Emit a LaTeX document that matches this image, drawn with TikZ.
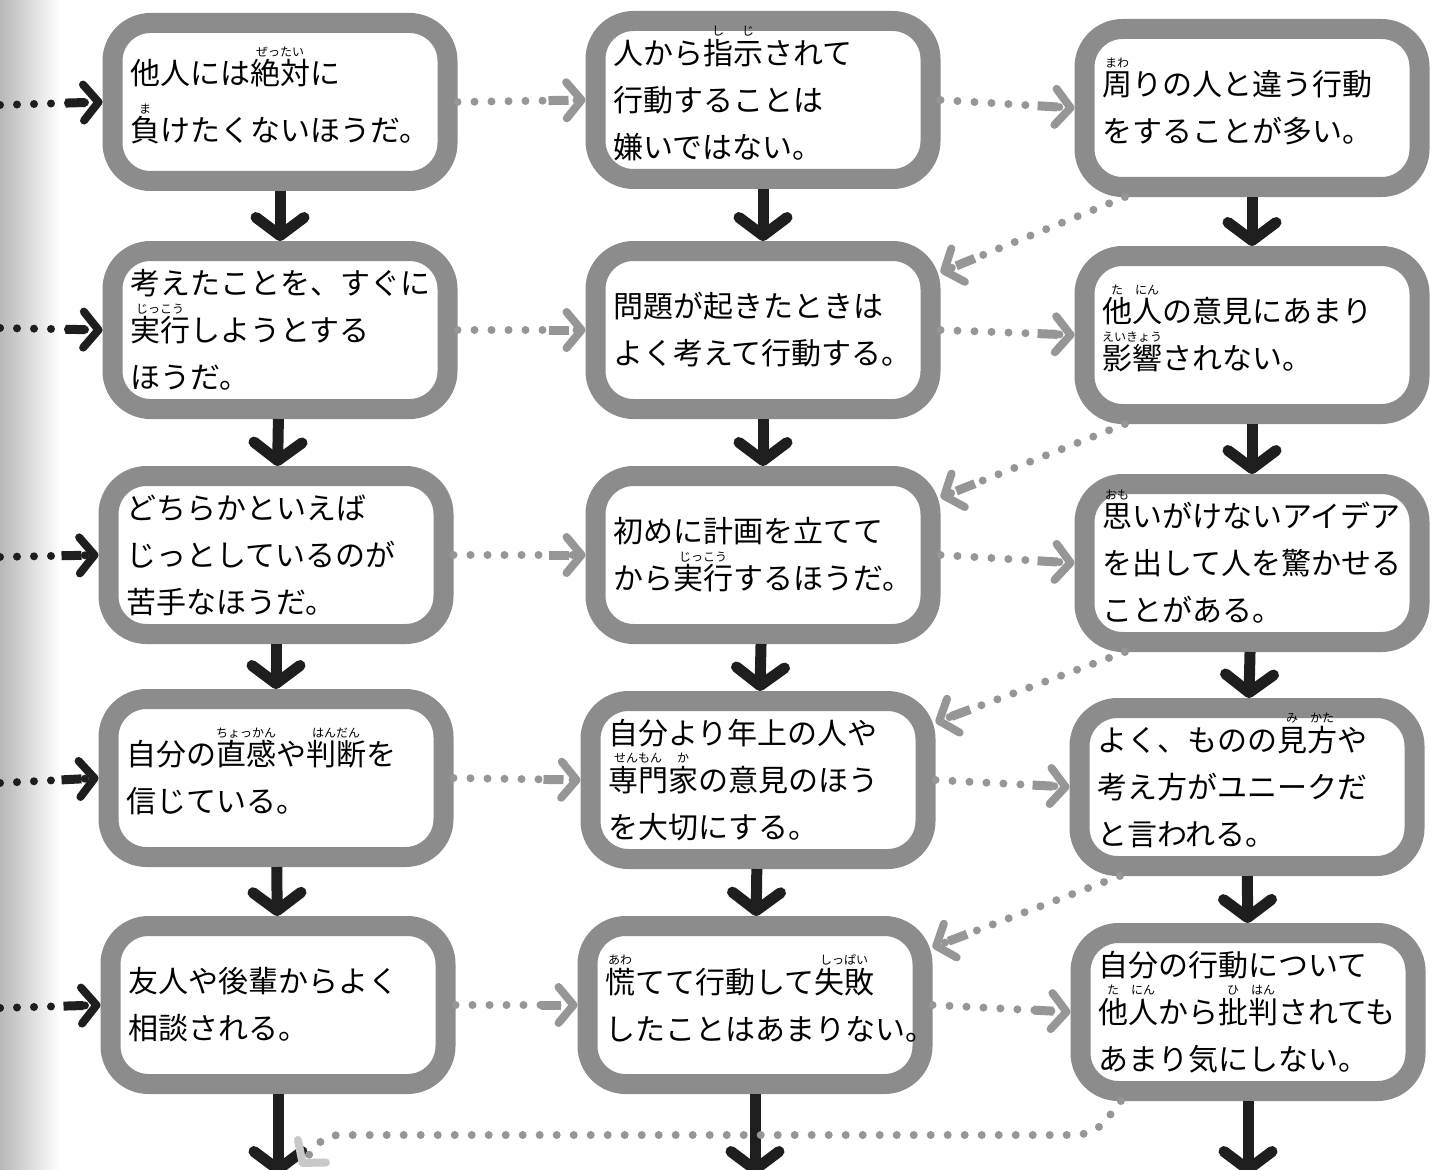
\documentclass[tikz,border=0pt]{standalone}
\usepackage{fontspec}
\setmainfont{Noto Sans CJK JP}
\usepackage{xcolor}
\usepackage{tikz}
\usetikzlibrary{arrows.meta,positioning}

\definecolor{boxgray}{RGB}{140,140,140}
\definecolor{dotgray}{RGB}{150,150,150}
\definecolor{tiplight}{RGB}{200,200,200}
\definecolor{ink}{RGB}{30,30,30}

\newcommand\furi[2]{\leavevmode\setbox0\hbox{#1}\rlap{\raisebox{0.95em}[0pt][0pt]{\makebox[\wd0][c]{\fontsize{12}{12}\selectfont #2}}}\box0}

\begin{document}
\begin{tikzpicture}
[x=1pt,y=-1pt,
box/.style={rectangle,draw=boxgray,line width=20pt,fill=white,rounded corners=38pt,minimum width=335pt,minimum height=158pt,text width=300pt,inner xsep=17.5pt,outer sep=10pt,align=left,font=\fontsize{30}{47}\selectfont},
down/.style={line width=11pt,draw=ink,-{Straight Barb[round,length=18pt,width=48pt]}},
link/.style={line width=8pt,line cap=round,dash pattern=on 0pt off 17pt,draw=dotgray,-{Rectangle[length=20pt,width=9pt,sep=-6pt]Straight Barb[round,length=15pt,width=36pt,line width=8pt]}},
inlink/.style={link,draw=ink}];
\useasboundingbox (0,0) rectangle (1447,1169);
\shade[left color=black!28,right color=white] (0,0) rectangle (60,1169);

\node[box] (a1) at (280,102) {他人には\furi{絶対}{ぜったい}に\\[10pt]\furi{負}{ま}けたくないほうだ。};
\node[box] (b1) at (763,100) {人から\furi{指}{し}\furi{示}{じ}されて\\行動することは\\嫌いではない。};
\node[box] (c1) at (1252,108) {\furi{周}{まわ}りの人と違う行動\\をすることが多い。};

\node[box] (a2) at (280,330) {考えたことを、すぐに\\\furi{実行}{じっこう}しようとする\\ほうだ。};
\node[box] (b2) at (763,330) {問題が起きたときは\\よく考えて行動する。};
\node[box] (c2) at (1252,335) {\furi{他}{た}\furi{人}{にん}の意見にあまり\\\furi{影響}{えいきょう}されない。};

\node[box] (a3) at (276,555) {どちらかといえば\\じっとしているのが\\苦手なほうだ。};
\node[box] (b3) at (763,555) {初めに計画を立てて\\から\furi{実行}{じっこう}するほうだ。};
\node[box] (c3) at (1252,563) {\furi{思}{おも}いがけないアイデア\\を出して人を驚かせる\\ことがある。};

\node[box] (a4) at (276,778) {自分の\furi{直感}{ちょっかん}や\furi{判断}{はんだん}を\\信じている。};
\node[box] (b4) at (758,780) {自分より年上の人や\\\furi{専門}{せんもん}\furi{家}{か}の意見のほう\\を大切にする。};
\node[box] (c4) at (1247,787) {よく、ものの\furi{見}{み}\furi{方}{かた}や\\考え方がユニークだ\\と言われる。};

\node[box] (a5) at (278,1005) {友人や後輩からよく\\相談される。};
\node[box] (b5) at (755,1005) {\furi{慌}{あわ}てて行動して\furi{失敗}{しっぱい}\\したことはあまりない。};
\node[box] (c5) at (1248,1012) {自分の行動について\\\furi{他}{た}\furi{人}{にん}から\furi{批}{ひ}\furi{判}{はん}されても\\あまり気にしない。};

\coordinate (l1) at (0,105);
\coordinate (l2) at (0,328);
\coordinate (l3) at (0,557);
\coordinate (l4) at (0,783);
\coordinate (l5) at (0,1008);
\coordinate (a6) at (278,1175);
\coordinate (b6) at (755,1175);
\coordinate (c6) at (1248,1175);
\coordinate (e1) at (300,1166);

\foreach \i/\j in {1/2,2/3,3/4,4/5,5/6}{
  \draw[down] (a\i) -- (a\j);
  \draw[down] (b\i) -- (b\j);
  \draw[down] (c\i) -- (c\j);
}
\foreach \i in {1,...,5}{
  \draw[inlink] (l\i) -- (a\i.west);
  \draw[link] (a\i.east) -- (b\i.west);
  \draw[link] (b\i.east) -- (c\i.west);
}
\foreach \i/\j in {1/2,2/3,3/4,4/5}
  \draw[link] (c\i.-145) -- (b\j.18);
\draw[link,-{Straight Barb[round,length=15pt,width=36pt,line width=8pt,color=tiplight]}] (c5.-145) .. controls (1095,1135) .. (1055,1135) -- (350,1135) .. controls (325,1135) .. (e1);
\end{tikzpicture}
\end{document}
